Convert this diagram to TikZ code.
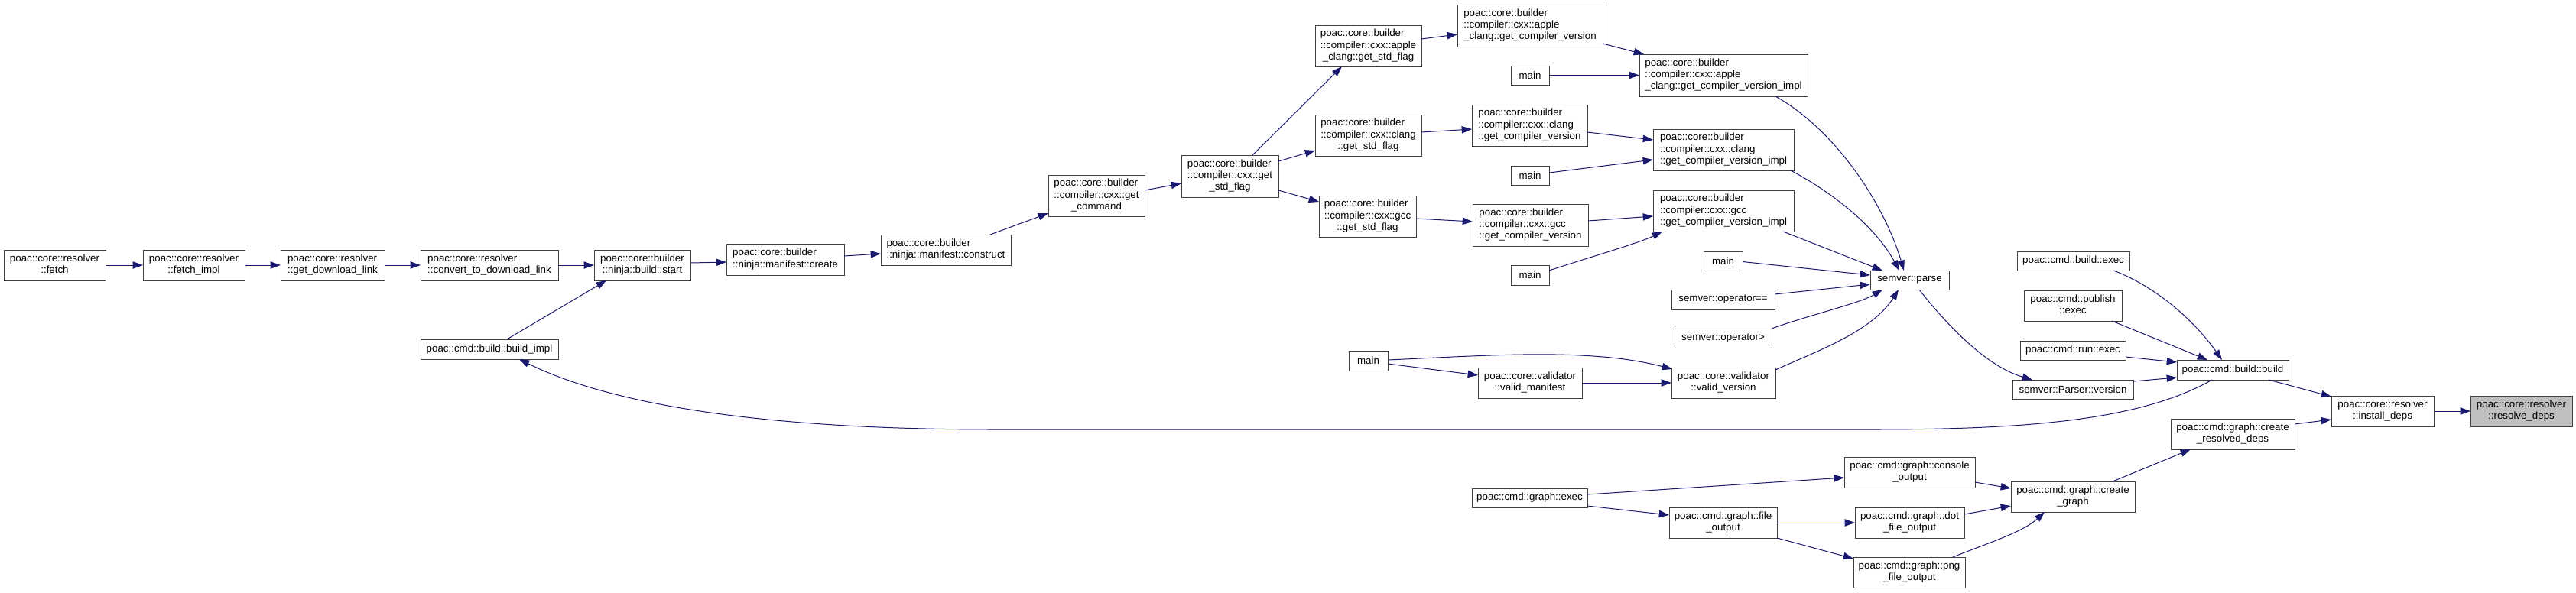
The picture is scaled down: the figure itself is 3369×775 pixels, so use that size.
\documentclass[tikz,border=0pt]{standalone}
\usepackage{fontspec}
\setmainfont{Liberation Sans}
\usetikzlibrary{arrows.meta,calc}
\definecolor{edgec}{RGB}{25,25,112}
\definecolor{bordc}{RGB}{64,64,64}
\definecolor{rootc}{RGB}{191,191,191}
\newcommand{\lbl}[2]{\begin{tabular}{@{}l@{}}#1\\\multicolumn{1}{@{}c@{}}{#2}\end{tabular}}
\newcommand{\bx}[7][]{\node[nd,#1,minimum width={(#5-#3)*0.75pt},minimum height={(#6-#4)*0.75pt}] (#2) at ({(#3+#5)/2},{(#4+#6)/2}) {#7};}
\begin{document}
\begin{tikzpicture}[x=0.75pt,y=-0.75pt,
  nd/.style={draw=bordc,fill=white,line width=0.75pt,inner sep=0pt,outer sep=0pt,font=\fontsize{10}{11.5}\selectfont},
  e/.style={draw=edgec,line width=0.75pt,-{Triangle[length=10pt,width=7pt]}}]
\useasboundingbox (0,0) rectangle (3369,775);
% nodes
\bx{fetch}{5}{327}{138}{367}{\lbl{poac::core::resolver}{::fetch}}
\bx{fetchimpl}{187}{327}{320}{367}{\lbl{poac::core::resolver}{::fetch\_impl}}
\bx{getdl}{367}{327}{503}{367}{\lbl{poac::core::resolver}{::get\_download\_link}}
\bx{conv}{550}{327}{730}{367}{\lbl{poac::core::resolver}{::convert\_to\_download\_link}}
\bx{start}{777}{327}{903}{367}{\lbl{poac::core::builder}{::ninja::build::start}}
\bx{buildimpl}{550}{444}{730}{470}{poac::cmd::build::build\_impl}
\bx{create}{950}{319}{1104}{360}{\lbl{poac::core::builder}{::ninja::manifest::create}}
\bx{construct}{1152}{307}{1322}{347}{\lbl{poac::core::builder}{::ninja::manifest::construct}}
\bx{getcmd}{1371}{229}{1497}{283}{\lbl{poac::core::builder\\::compiler::cxx::get}{\_command}}
\bx{stdflag}{1545}{203}{1672}{258}{\lbl{poac::core::builder\\::compiler::cxx::get}{\_std\_flag}}
\bx{acstd}{1720}{33}{1859}{87}{\lbl{poac::core::builder\\::compiler::cxx::apple}{\_clang::get\_std\_flag}}
\bx{clstd}{1720}{150}{1859}{204}{\lbl{poac::core::builder\\::compiler::cxx::clang}{::get\_std\_flag}}
\bx{gcstd}{1725}{256}{1852}{310}{\lbl{poac::core::builder\\::compiler::cxx::gcc}{::get\_std\_flag}}
\bx{acver}{1906}{6}{2096}{61}{\lbl{poac::core::builder\\::compiler::cxx::apple}{\_clang::get\_compiler\_version}}
\bx{mainA}{1976}{86}{2026}{111}{main}
\bx{acimpl}{2144}{71}{2364}{126}{\lbl{poac::core::builder\\::compiler::cxx::apple}{\_clang::get\_compiler\_version\_impl}}
\bx{clver}{1925}{137}{2076}{191}{\lbl{poac::core::builder\\::compiler::cxx::clang}{::get\_compiler\_version}}
\bx{climpl}{2162}{169}{2346}{223}{\lbl{poac::core::builder\\::compiler::cxx::clang}{::get\_compiler\_version\_impl}}
\bx{mainB}{1976}{217}{2026}{242}{main}
\bx{gcver}{1926}{267}{2077}{322}{\lbl{poac::core::builder\\::compiler::cxx::gcc}{::get\_compiler\_version}}
\bx{gcimpl}{2162}{249}{2346}{303}{\lbl{poac::core::builder\\::compiler::cxx::gcc}{::get\_compiler\_version\_impl}}
\bx{mainC}{1976}{347}{2026}{373}{main}
\bx{mainD}{2228}{329}{2279}{354}{main}
\bx{opeq}{2186}{379}{2321}{405}{semver::operator==}
\bx{opgt}{2190}{430}{2317}{455}{semver::operator>}
\bx{mainE}{1764}{459}{1815}{485}{main}
\bx{vman}{1933}{481}{2069}{521}{\lbl{poac::core::validator}{::valid\_manifest}}
\bx{vver}{2186}{481}{2322}{521}{\lbl{poac::core::validator}{::valid\_version}}
\bx{parse}{2446}{354}{2549}{379}{semver::parse}
\bx{bexec}{2638}{329}{2785}{354}{poac::cmd::build::exec}
\bx{pexec}{2647}{380}{2775}{420}{\lbl{poac::cmd::publish}{::exec}}
\bx{rexec}{2642}{446}{2780}{471}{poac::cmd::run::exec}
\bx{pver}{2632}{497}{2790}{522}{semver::Parser::version}
\bx{build}{2847}{471}{2993}{497}{poac::cmd::build::build}
\bx{install}{3049}{518}{3183}{558}{\lbl{poac::core::resolver}{::install\_deps}}
\bx[fill=rootc]{resolve}{3231}{518}{3364}{558}{\lbl{poac::core::resolver}{::resolve\_deps}}
\bx{crdeps}{2839}{548}{3001}{588}{\lbl{poac::cmd::graph::create}{\_resolved\_deps}}
\bx{console}{2412}{598}{2583}{638}{\lbl{poac::cmd::graph::console}{\_output}}
\bx{gexec}{1925}{639}{2076}{664}{poac::cmd::graph::exec}
\bx{fout}{2183}{664}{2324}{704}{\lbl{poac::cmd::graph::file}{\_output}}
\bx{dout}{2426}{664}{2569}{704}{\lbl{poac::cmd::graph::dot}{\_file\_output}}
\bx{pngout}{2424}{729}{2570}{769}{\lbl{poac::cmd::graph::png}{\_file\_output}}
\bx{cgraph}{2630}{630}{2792}{670}{\lbl{poac::cmd::graph::create}{\_graph}}
% edges
\draw[e] (fetch.east) -- (fetchimpl.west);
\draw[e] (fetchimpl.east) -- (getdl.west);
\draw[e] (getdl.east) -- (conv.west);
\draw[e] (conv.east) -- (start.west);
\draw[e] ($(buildimpl.north)+(23,0)$) -- ($(start.south west)+(16,0)$);
\draw[e] ($(start.east)+(0,-3)$) -- ($(create.west)+(0,3.5)$);
\draw[e] ($(create.east)+(0,-4.5)$) -- ($(construct.west)+(0,5)$);
\draw[e] ($(construct.north)+(58,0)$) -- ($(getcmd.south west)+(0,-4)$);
\draw[e] ($(getcmd.east)+(0,-7)$) -- ($(stdflag.west)+(0,9.5)$);
\draw[e] ($(stdflag.north)+(29.5,0)$) -- ($(acstd.south)+(-34.5,0)$);
\draw[e] ($(stdflag.north east)+(0,8)$) -- ($(clstd.south west)+(0,-7)$);
\draw[e] ($(stdflag.south east)+(0,-9)$) -- ($(gcstd.north west)+(0,8)$);
\draw[e] ($(acstd.north east)+(0,18)$) -- ($(acver.west)+(0,11.5)$);
\draw[e] ($(acver.south east)+(0,-4)$) -- ($(acimpl.north west)+(6,0)$);
\draw[e] (mainA.east) -- (acimpl.west);
\draw[e] ($(clstd.east)+(0,-4)$) -- ($(clver.west)+(0,5)$);
\draw[e] ($(clver.east)+(0,9)$) -- ($(climpl.west)+(0,-13)$);
\draw[e] ($(mainB.east)+(0,-3.5)$) -- ($(climpl.west)+(0,13)$);
\draw[e] ($(gcstd.east)+(0,3)$) -- ($(gcver.west)+(0,-4.5)$);
\draw[e] ($(gcver.east)+(0,-5.5)$) -- ($(gcimpl.west)+(0,7)$);
\draw[e] ($(mainC.east)+(0,-6)$) .. controls +(45,-15) and +(-30,15) .. ($(gcimpl.south west)+(12,0)$);
\draw[e] ($(acimpl.south east)+(-42,0)$) .. controls +(80,45) and +(-25,-85) .. ($(parse.north)+(-7.5,0)$);
\draw[e] ($(climpl.south east)+(-4,0)$) .. controls +(60,32) and +(-30,-55) .. ($(parse.north)+(-13.5,0)$);
\draw[e] ($(gcimpl.south east)+(-14,0)$) -- ($(parse.north west)+(16,0)$);
\draw[e] ($(mainD.east)+(0,1)$) -- ($(parse.west)+(0,-6.5)$);
\draw[e] ($(opeq.east)+(0,-7)$) -- ($(parse.west)+(0,5.5)$);
\draw[e] (opgt.north east) .. controls +(50,-18) and +(-30,18) .. ($(parse.south west)+(16,0)$);
\draw[e] ($(vver.east)+(0,-17)$) .. controls +(55,-25) and +(-35,55) .. ($(parse.south)+(-14.5,0)$);
\draw[e] ($(mainE.east)+(0,-1)$) .. controls +(135,-6) and +(-107,-28) .. ($(vver.north west)+(1,2)$);
\draw[e] ($(mainE.east)+(0,4)$) -- ($(vman.west)+(0,-10)$);
\draw[e] (vman.east) -- (vver.west);
\draw[e] ($(parse.south)+(12.5,0)$) .. controls +(40,51) and +(-58,-17) .. ($(pver.north west)+(26,0)$);
\draw[e] ($(bexec.south east)+(-21,0)$) .. controls +(56,21) and +(-36,-51) .. ($(build.north)+(-14,0)$);
\draw[e] ($(pexec.south east)+(-13,0)$) -- ($(build.north west)+(40,0)$);
\draw[e] ($(rexec.south east)+(0,-4)$) -- ($(build.west)+(0,-10)$);
\draw[e] ($(pver.east)+(0,-10.5)$) -- ($(build.west)+(0,10)$);
\draw[e] ($(build.south)+(-27,0)$) .. controls (2800,550) and (2650,562) .. (2450,562) -- (1300,562) .. controls (1000,562) and (800,530) .. ($(buildimpl.south)+(39,0)$);
\draw[e] ($(build.south east)+(-26,0)$) -- ($(install.north west)+(0,1)$);
\draw[e] ($(crdeps.north east)+(0,7)$) -- ($(install.west)+(0,11)$);
\draw[e] (install.east) -- (resolve.west);
\draw[e] ($(cgraph.north)+(52,0)$) -- ($(crdeps.south)+(-55,0)$);
\draw[e] ($(console.south east)+(0,-7)$) -- ($(cgraph.west)+(0,-11)$);
\draw[e] ($(dout.east)+(0,-11)$) -- ($(cgraph.west)+(0,12)$);
\draw[e] ($(pngout.north east)+(-16,0)$) .. controls +(45,-18) and +(-28,26) .. ($(cgraph.south)+(-37,0)$);
\draw[e] ($(gexec.east)+(0,-4.5)$) -- ($(console.west)+(0,7)$);
\draw[e] ($(gexec.south east)+(0,-2)$) -- ($(fout.west)+(0,-10)$);
\draw[e] (fout.east) -- (dout.west);
\draw[e] (fout.south east) -- ($(pngout.west)+(0,-18)$);
\end{tikzpicture}
\end{document}
